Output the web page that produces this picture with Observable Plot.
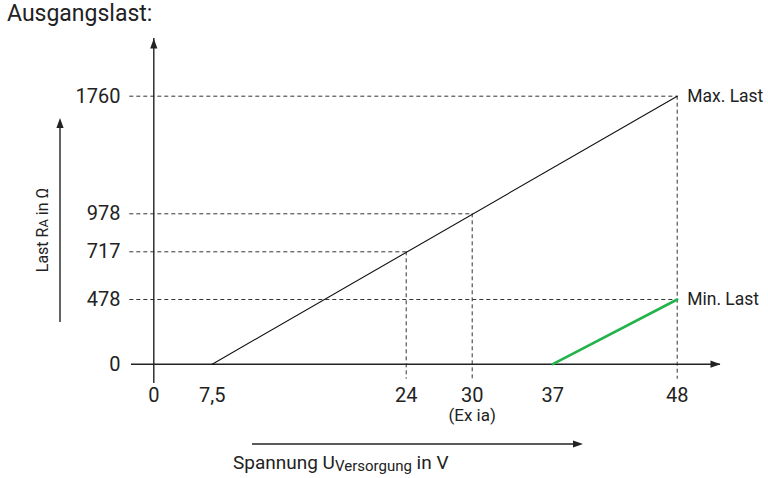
<!DOCTYPE html>
<html>
<head>
<meta charset="utf-8">
<script src="https://cdn.jsdelivr.net/npm/d3@7"></script>
<script src="https://cdn.jsdelivr.net/npm/@observablehq/plot@0.6"></script>
<style>
  html, body { margin: 0; padding: 0; background: #fff; }
  #title { height: 36px; line-height: 36px; font: 23px Roboto, sans-serif; color: #222; padding-left: 7px; }
  svg { display: block; }
</style>
</head>
<body>
<div id="title">Ausgangslast:</div>
<div id="chart"></div>
<script>
// ---- data ----
const xTicks = [0, 7.5, 24, 30, 37, 48];           // supply voltage tick values (V)
const yTicks = [0, 478, 717, 978, 1760];           // load tick values (Ohm)
const xNote = [30];                                 // tick with note
const xNoteLabels = ["(Ex ia)"];
const maxLastU = [7.5, 48];                         // Max. Last line
const maxLastR = [0, 1760];
const minLastU = [37, 48];                          // Min. Last line
const minLastR = [0, 478];
const hGuideR = [1760, 978, 717, 478];              // horizontal guides
const hGuideU = [48, 30, 24, 48];
const vGuideU = [24, 30, 48];                       // vertical guides
const vGuideR = [717, 978, 1760];
const endLabels = ["Max. Last", "Min. Last"];
const endLabelU = [48, 48];
const endLabelR = [1760, 478];
const yLabel = ["Last R", "A", " in Ω"];
const xLabel = ["Spannung U", "Versorgung", " in V"];

const maxLine = maxLastU.map((u, i) => ({u, r: maxLastR[i]}));
const minLine = minLastU.map((u, i) => ({u, r: minLastR[i]}));
const hGuides = hGuideR.map((r, i) => ({r, u: hGuideU[i]}));
const vGuides = vGuideU.map((u, i) => ({u, r: vGuideR[i]}));
const ends = endLabels.map((t, i) => ({t, u: endLabelU[i], r: endLabelR[i]}));

// schematic (piecewise) axes of the reference drawing
const xWarp = d3.scaleLinear().domain(xTicks).range([153.3, 211.7, 405.7, 471.7, 552.3, 676.7]);
const yWarp = d3.scaleLinear().domain(yTicks).range([327.7, 263, 215.3, 177.3, 59.7]);

const ink = "#222";
const arrowHead = {
  draw(ctx) { ctx.moveTo(0, 0); ctx.lineTo(3.6, 10); ctx.lineTo(-3.6, 10); ctx.closePath(); }
};

const plot = Plot.plot({
  width: 768,
  height: 442,
  marginTop: 2,
  marginRight: 48,
  marginBottom: 95,
  marginLeft: 131,
  style: {fontFamily: "Roboto, sans-serif", fontSize: "20px", color: ink, background: "#fff"},
  x: {type: "linear", domain: [0, 768], range: [0, 768], transform: xWarp},
  y: {type: "linear", domain: [0, 442], range: [0, 442], transform: yWarp},
  marks: [
    // dashed guides
    Plot.ruleY(hGuides, {y: "r", x1: () => 0, x2: "u", insetLeft: -24, stroke: "#333", strokeWidth: 1, strokeDasharray: "4,3"}),
    Plot.ruleX(vGuides, {x: "u", y1: "r", y2: () => 0, insetBottom: -15, stroke: "#333", strokeWidth: 1, strokeDasharray: "4,3"}),
    // axes lines
    Plot.ruleY([0], {stroke: ink, strokeWidth: 1.4}),
    Plot.ruleX([0], {stroke: ink, strokeWidth: 1.4}),
    Plot.dot([0], {y: d => d, frameAnchor: "right", symbol: arrowHead, rotate: 90, fill: ink, stroke: null}),
    Plot.dot([0], {x: d => d, frameAnchor: "top", symbol: arrowHead, fill: ink, stroke: null}),
    // tick labels
    Plot.axisX(xTicks, {anchor: "bottom", tickSize: 0, tickPadding: 4, label: null,
      tickFormat: d => String(d).replace(".", ","), fontSize: 20}),
    Plot.axisX(xNote, {anchor: "bottom", tickSize: 0, tickPadding: 25, label: null,
      tickFormat: (d, i) => xNoteLabels[i], fontSize: 17}),
    Plot.axisY(yTicks, {anchor: "left", tickSize: 0, tickPadding: 11, label: null,
      tickFormat: d => String(d), fontSize: 20}),
    // data lines
    Plot.line(maxLine, {x: "u", y: "r", stroke: "#111", strokeWidth: 1.1}),
    Plot.line(minLine, {x: "u", y: "r", stroke: "#22b34a", strokeWidth: 2.6}),
    // end labels
    Plot.text(ends, {x: "u", y: "r", text: "t", dx: 10, textAnchor: "start", fontSize: 17.5, fill: ink})
  ]
});

document.getElementById("chart").appendChild(plot);

// axis-title arrows and labels
const svg = d3.select(plot);
const deco = svg.append("g").attr("fill", ink).attr("stroke", ink);
deco.append("line").attr("x1", 60).attr("x2", 60).attr("y1", 286).attr("y2", 90).attr("stroke-width", 1.4);
deco.append("path").attr("d", "M60,82L56.4,92L63.6,92Z").attr("stroke", "none");
deco.append("line").attr("x1", 252).attr("x2", 575).attr("y1", 408).attr("y2", 408).attr("stroke-width", 1.4);
deco.append("path").attr("d", "M583,408L573,404.4L573,411.6Z").attr("stroke", "none");

const yl = svg.append("text")
  .attr("transform", "translate(48,194) rotate(-90)")
  .attr("text-anchor", "middle")
  .attr("font-family", "Roboto, sans-serif").attr("font-size", 16).attr("fill", ink);
yl.append("tspan").text(yLabel[0]);
yl.append("tspan").attr("font-size", 13).text(yLabel[1]);
yl.append("tspan").text(yLabel[2]);

const xl = svg.append("text")
  .attr("x", 233).attr("y", 433)
  .attr("text-anchor", "start")
  .attr("font-family", "Roboto, sans-serif").attr("font-size", 19).attr("fill", ink);
xl.append("tspan").text(xLabel[0]);
xl.append("tspan").attr("font-size", 15).attr("dy", 1.5).text(xLabel[1]);
xl.append("tspan").attr("dy", -1.5).text(xLabel[2]);
</script>
</body>
</html>
